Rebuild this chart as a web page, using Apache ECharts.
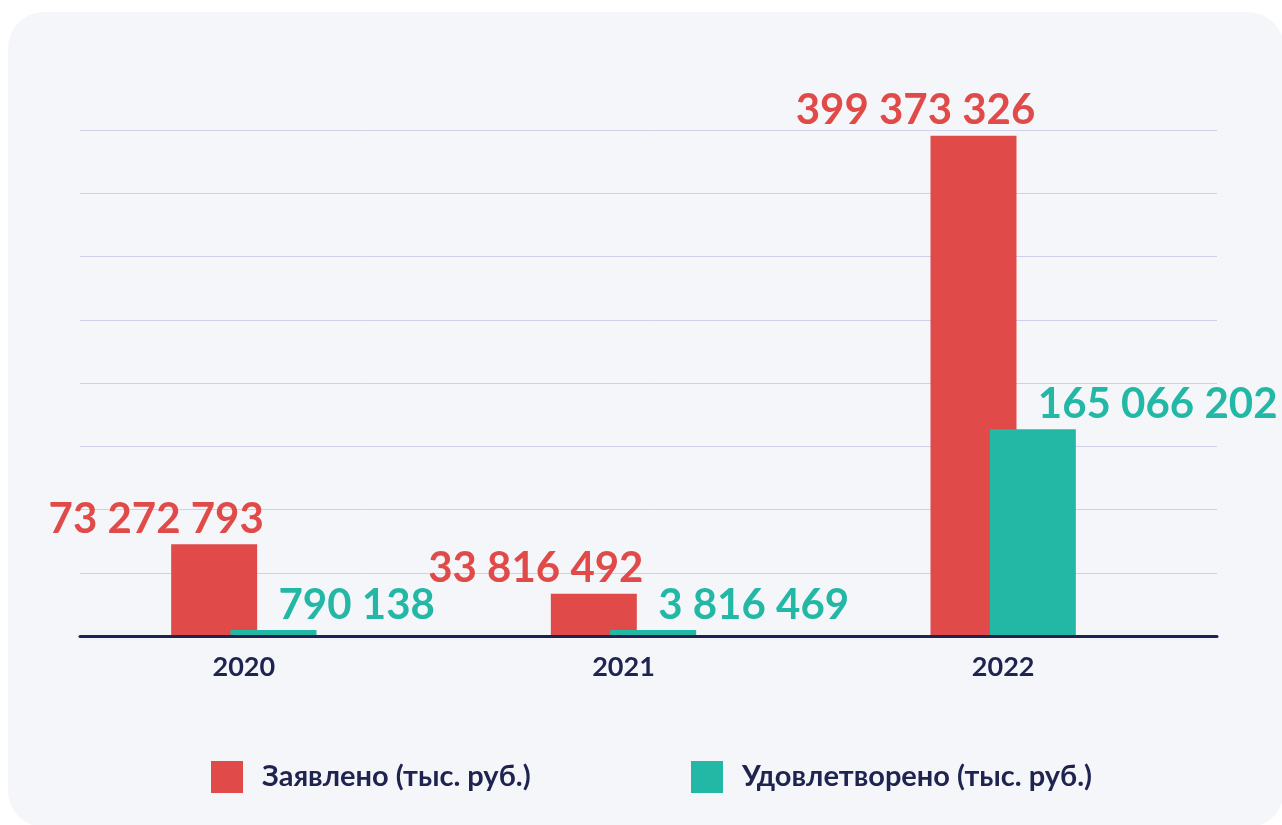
<!DOCTYPE html>
<html>
<head>
<meta charset="utf-8">
<script src="https://cdn.jsdelivr.net/npm/echarts/dist/echarts.min.js"></script>
<style>
  html, body { margin: 0; padding: 0; background: #ffffff; }
  #chart { width: 1282px; height: 825px; }
</style>
</head>
<body>
<div id="chart"></div>
<script>
// годы
const years = ['2020', '2021', '2022']
// заявлено, тыс. руб.
const claimed = [73272793, 33816492, 399373326]
// удовлетворено, тыс. руб.
const satisfied = [790138, 3816469, 165066202]
const seriesNames = ['Заявлено (тыс. руб.)', 'Удовлетворено (тыс. руб.)']

const RED = '#e04b4a'
const TEAL = '#23b8a5'
const NAVY = '#1e2350'
const FONT = 'Lato, "Open Sans", sans-serif'

const yMax = 404000000
const yStep = 50500000

// пробелы между разрядами
const fmt = v => String(v).replace(/\B(?=(\d{3})+(?!\d))/g, ' ')

const chart = echarts.init(document.getElementById('chart'))

// легенда: одна на каждую серию, чтобы задать позицию
const legendItem = (name, left) => ({
  data: [name],
  left: left, top: 761, padding: 0,
  icon: 'rect', itemWidth: 32, itemHeight: 32, itemGap: 0,
  textStyle: { fontSize: 29, fontWeight: 'bold', color: NAVY, fontFamily: FONT, padding: [0, 0, 0, 14] }
})

const option = {
  animation: false,
  backgroundColor: '#ffffff',
  graphic: [{
    type: 'rect',
    z: -10,
    silent: true,
    shape: { x: 8, y: 12, width: 1276, height: 815, r: 36 },
    style: { fill: '#f5f6fa' }
  }],
  legend: [
    legendItem(seriesNames[0], 211),
    legendItem(seriesNames[1], 691)
  ],
  grid: [
    // столбцы
    { left: 54, right: 89, top: 130, bottom: 189 },
    // сетка и базовая линия
    { left: 80, right: 65, top: 130, bottom: 189 }
  ],
  xAxis: [
    {
      type: 'category', gridIndex: 0, data: years,
      axisLine: { show: false }, axisTick: { show: false },
      axisLabel: { fontSize: 27, fontWeight: 'bold', color: NAVY, fontFamily: FONT, margin: 18 }
    },
    {
      type: 'value', gridIndex: 1, min: 0, max: 1, z: 5,
      axisLine: { show: true, lineStyle: { color: NAVY, width: 3 } },
      axisTick: { show: false }, axisLabel: { show: false }, splitLine: { show: false }
    }
  ],
  yAxis: [
    { type: 'value', gridIndex: 0, min: 0, max: yMax, interval: yStep, show: false },
    {
      type: 'value', gridIndex: 1, min: 0, max: yMax, interval: yStep,
      axisLine: { show: false }, axisTick: { show: false }, axisLabel: { show: false },
      splitLine: { show: true, lineStyle: { color: '#cfd0ea', width: 1 } }
    }
  ],
  series: [
    {
      name: seriesNames[0], type: 'bar', xAxisIndex: 0, yAxisIndex: 0,
      data: claimed, barWidth: 86, barGap: '-31%',
      itemStyle: { color: RED },
      label: {
        show: true, position: 'top', distance: 4, offset: [-58, 0],
        formatter: p => fmt(p.value),
        fontSize: 42, fontWeight: 'bold', color: RED, fontFamily: FONT
      }
    },
    {
      name: seriesNames[1], type: 'bar', xAxisIndex: 0, yAxisIndex: 0,
      data: satisfied, barWidth: 86, barMinHeight: 6,
      itemStyle: { color: TEAL },
      label: {
        show: true, position: 'top', distance: 4, align: 'left', offset: [5, 0],
        formatter: p => fmt(p.value),
        fontSize: 42, fontWeight: 'bold', color: TEAL, fontFamily: FONT
      }
    }
  ]
}

chart.setOption(option)
</script>
</body>
</html>
